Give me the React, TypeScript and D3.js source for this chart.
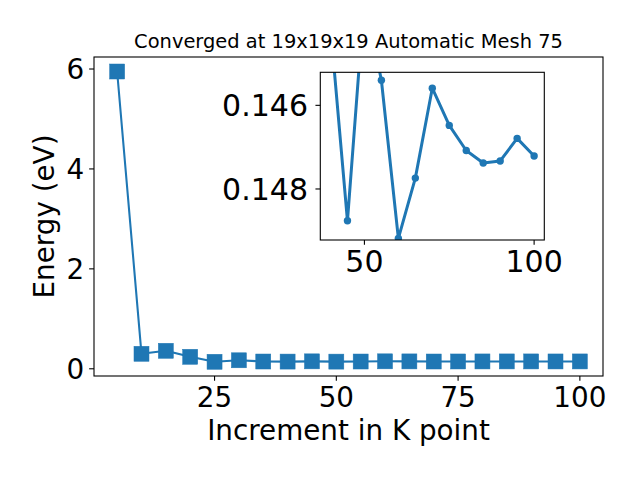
import React from "react";
import * as d3 from "d3";

const kPoints = [5, 10, 15, 20, 25, 30, 35, 40, 45, 50, 55, 60, 65, 70, 75, 80, 85, 90, 95, 100];
const energies = [5.95, 0.30, 0.36, 0.24, 0.14, 0.17, 0.1455, 0.14412, 0.14876, 0.14342, 0.1454, 0.14918, 0.14774, 0.14559, 0.14648, 0.14708, 0.14738, 0.14733, 0.14679, 0.14721];
const mainXTicks = [25, 50, 75, 100];
const mainYTicks = [0, 2, 4, 6];
const insetXTicks = [50, 100];
const insetYTicks = [0.146, 0.148];
const insetStartK = 40;
const title = "Converged at 19x19x19 Automatic Mesh 75";
const xLabel = "Increment in K point";
const yLabel = "Energy (eV)";

const COLOR = "#1f77b4";
const FONT = "DejaVu Sans";
const TICK_FS = 27.8;
const INSET_FS = 30;

export default function App() {
  const W = 640, H = 480;
  const m = { l: 94, r: 603, t: 57, b: 376 };
  const ins = { l: 320.3, r: 544.3, t: 72.3, b: 240 };

  const x = d3.scaleLinear().domain([0.25, 104.75]).range([m.l, m.r]);
  const y = d3.scaleLinear().domain([-0.1444, 6.2404]).range([m.b, m.t]);

  const insetData = kPoints.map((k, i) => ({ k, e: energies[i] })).filter(d => d.k >= insetStartK);
  const xi = d3.scaleLinear().domain([37, 103]).range([ins.l, ins.r]);
  const yi = d3.scaleLinear().domain([0.14521, 0.14922]).range([ins.t, ins.b]);

  const mainData = kPoints.map((k, i) => ({ k, e: energies[i] }));
  const mainLine = d3.line<{ k: number; e: number }>().x(d => x(d.k)).y(d => y(d.e))(mainData) || "";
  const insetLine = d3.line<{ k: number; e: number }>().x(d => xi(d.k)).y(d => yi(d.e))(insetData) || "";

  const tl = 4.86, pad = 4.86;
  const digitH = 0.729 * TICK_FS;
  const digitHi = 0.729 * INSET_FS;
  const ms = 15;

  return (
    <svg width={W} height={H} style={{ display: "block", position: "absolute", left: 0, top: 0 }} fontFamily={FONT}>
      <rect x={0} y={0} width={W} height={H} fill="white" />
      <defs>
        <clipPath id="mainClip">
          <rect x={m.l} y={m.t} width={m.r - m.l} height={m.b - m.t} />
        </clipPath>
        <clipPath id="insClip">
          <rect x={ins.l} y={ins.t} width={ins.r - ins.l} height={ins.b - ins.t} />
        </clipPath>
      </defs>

      {/* main plot */}
      <g clipPath="url(#mainClip)">
        <path d={mainLine} fill="none" stroke={COLOR} strokeWidth={2.08} strokeLinejoin="round" />
        {mainData.map((d, i) => (
          <rect key={i} x={x(d.k) - ms / 2} y={y(d.e) - ms / 2} width={ms} height={ms} fill={COLOR} stroke={COLOR} strokeWidth={0.5} />
        ))}
      </g>
      <rect x={m.l} y={m.t} width={m.r - m.l} height={m.b - m.t} fill="none" stroke="black" strokeWidth={1.1} />
      {mainXTicks.map(t => (
        <g key={"x" + t}>
          <line x1={x(t)} x2={x(t)} y1={m.b} y2={m.b + tl} stroke="black" strokeWidth={1.1} />
          <text x={x(t)} y={m.b + tl + pad + digitH + 1} fontSize={TICK_FS} textAnchor="middle">{t}</text>
        </g>
      ))}
      {mainYTicks.map(t => (
        <g key={"y" + t}>
          <line x1={m.l - tl} x2={m.l} y1={y(t)} y2={y(t)} stroke="black" strokeWidth={1.1} />
          <text x={m.l - tl - pad} y={y(t) + digitH / 2} fontSize={TICK_FS} textAnchor="end">{t}</text>
        </g>
      ))}
      <text x={(m.l + m.r) / 2} y={440} fontSize={27.8} textAnchor="middle">{xLabel}</text>
      <text transform={`translate(53.6, ${(m.t + m.b) / 2}) rotate(-90)`} fontSize={27.8} textAnchor="middle">{yLabel}</text>
      <text x={(m.l + m.r) / 2} y={48.3} fontSize={19.44} textAnchor="middle">{title}</text>

      {/* inset */}
      <rect x={ins.l} y={ins.t} width={ins.r - ins.l} height={ins.b - ins.t} fill="white" />
      <g clipPath="url(#insClip)">
        <path d={insetLine} fill="none" stroke={COLOR} strokeWidth={3} strokeLinejoin="round" />
        {insetData.map((d, i) => (
          <circle key={i} cx={xi(d.k)} cy={yi(d.e)} r={3.7} fill={COLOR} />
        ))}
      </g>
      <rect x={ins.l} y={ins.t} width={ins.r - ins.l} height={ins.b - ins.t} fill="none" stroke="black" strokeWidth={1.1} />
      {insetXTicks.map(t => (
        <g key={"ix" + t}>
          <line x1={xi(t)} x2={xi(t)} y1={ins.b} y2={ins.b + tl} stroke="black" strokeWidth={1.1} />
          <text x={xi(t)} y={ins.b + tl + pad + digitHi} fontSize={INSET_FS} textAnchor="middle">{t}</text>
        </g>
      ))}
      {insetYTicks.map(t => (
        <g key={"iy" + t}>
          <line x1={ins.l - tl} x2={ins.l} y1={yi(t)} y2={yi(t)} stroke="black" strokeWidth={1.1} />
          <text x={308} y={yi(t) + digitHi / 2} fontSize={INSET_FS} textAnchor="end">{d3.format(".3f")(t)}</text>
        </g>
      ))}
    </svg>
  );
}
